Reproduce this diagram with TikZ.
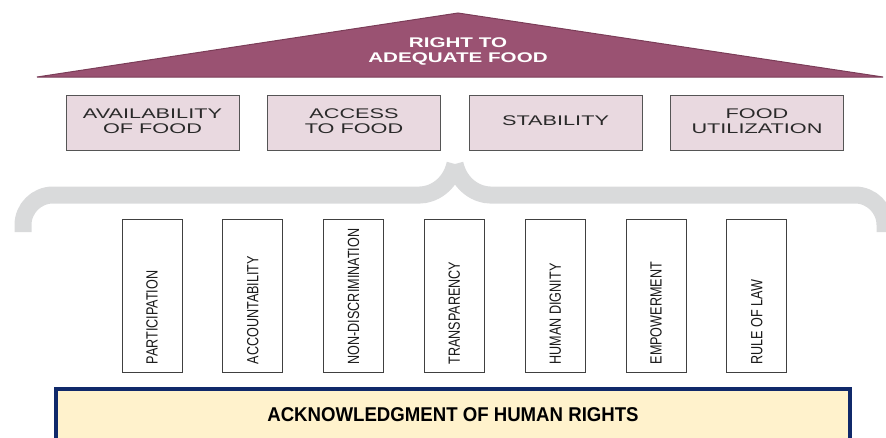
\documentclass[tikz,border=0pt]{standalone}
\usepackage{fontspec}
\setmainfont{Liberation Sans}
\usepackage{graphicx}

\definecolor{rooffill}{HTML}{9A5272}
\definecolor{roofline}{HTML}{7B3D58}
\definecolor{pillarfill}{HTML}{E9D9E0}
\definecolor{pillarline}{HTML}{555555}
\definecolor{pillartext}{HTML}{2A2A2A}
\definecolor{bracegray}{HTML}{D9DADB}
\definecolor{basefill}{HTML}{FFF2CC}
\definecolor{baseline}{HTML}{10296A}

\newcommand{\widelines}[1]{\scalebox{1.55}[1]{\begin{tabular}{@{}c@{}}#1\end{tabular}}}
\newcommand{\narrowtext}[1]{\scalebox{1.05}[1.35]{#1}}

\tikzset{
    pillar/.style={draw=pillarline, fill=pillarfill, line width=1pt,
        minimum width=173pt, minimum height=55pt, inner sep=0pt,
        text=pillartext, font=\fontsize{14}{15}\selectfont},
    principle/.style={draw=black!75, fill=white, line width=1pt,
        minimum width=60pt, minimum height=153pt},
    principletext/.style={rotate=90, anchor=west, inner sep=0pt,
        text=black!90, font=\fontsize{12}{12}\selectfont},
    armstyle/.style={draw=bracegray, line width=17pt, rounded corners=30pt},
}

\begin{document}
\begin{tikzpicture}[x=1pt,y=-1pt]
    \useasboundingbox (0,0) rectangle (886,437);
    \clip (0,0) rectangle (886,437);

    \filldraw[fill=rooffill, draw=roofline, line width=1pt]
        (37,77) -- (458,13) -- (883,77) -- cycle;
    \node[text=white, font=\bfseries\fontsize{14}{15}\selectfont] (roof) at (458,52)
        {\scalebox{0.95}[1]{\widelines{RIGHT TO\\ADEQUATE FOOD}}};

    \foreach \i/\txt in {1/{AVAILABILITY\\OF FOOD}, 2/{ACCESS\\TO FOOD},
                         3/STABILITY, 4/{FOOD\\UTILIZATION}}{
        \node[pillar] (pillar\i) at ({152.5+201.5*(\i-1)},122.5) {\widelines{\txt}};
    }

    \draw[armstyle] (23,232) -- (23,195) -- (390,195)
        .. controls (432,195) and (450,186) .. (455,164);
    \draw[armstyle] (885,232) -- (885,195) -- (520,195)
        .. controls (478,195) and (460,186) .. (455,164);

    \foreach \i/\txt in {0/PARTICIPATION, 1/ACCOUNTABILITY, 2/NON-DISCRIMINATION,
                         3/TRANSPARENCY, 4/HUMAN DIGNITY, 5/EMPOWERMENT, 6/RULE OF LAW}{
        \node[principle] (p\i) at ({152+100.8*\i},295.5) {};
        \node[principletext] (t\i) at ([yshift=8pt]p\i.south) {\narrowtext{\txt}};
    }

    \node[draw=baseline, fill=basefill, line width=3.5pt,
        minimum width=794pt, minimum height=72pt] (base) at (453,425) {};
    \node[font=\bfseries\fontsize{19}{19}\selectfont] (basetext)
        at ([yshift=-27pt]base.north) {\scalebox{0.98}[1.05]{ACKNOWLEDGMENT OF HUMAN RIGHTS}};
\end{tikzpicture}
\end{document}
